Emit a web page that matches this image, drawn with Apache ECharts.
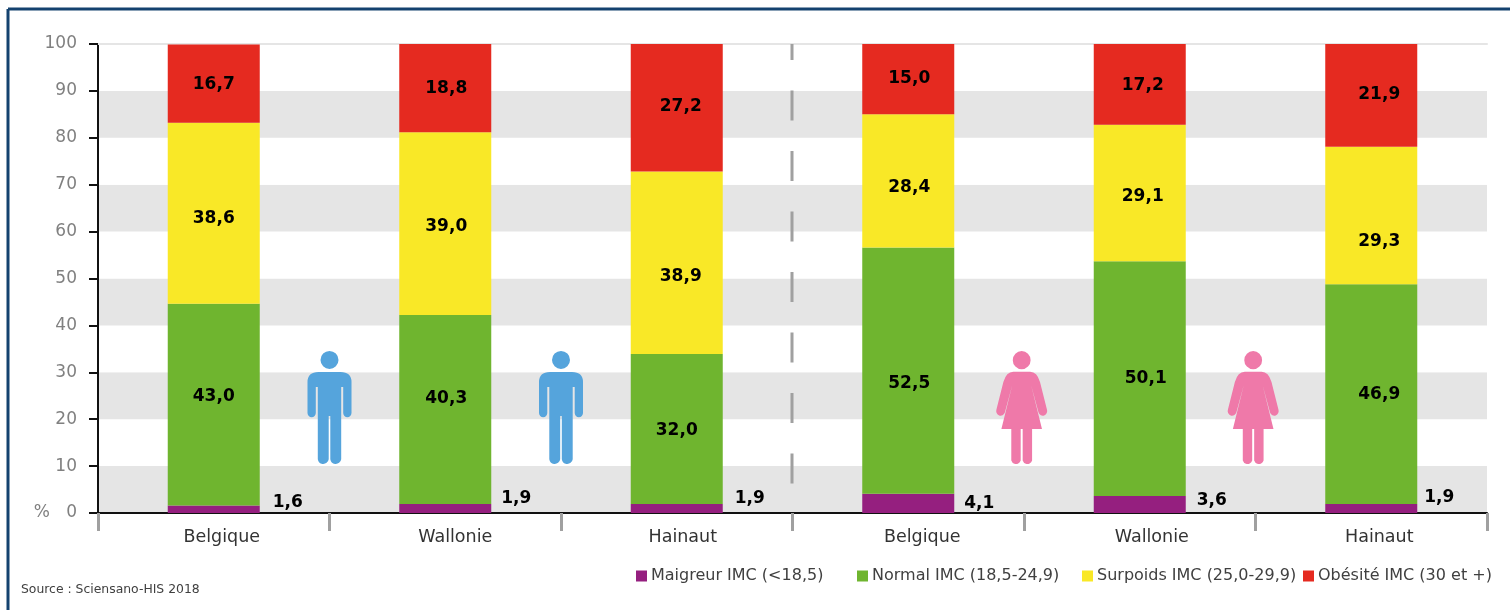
<!DOCTYPE html>
<html><head><meta charset="utf-8">
<style>html,body{margin:0;padding:0;background:#fff}#c{width:1510px;height:610px}</style>
<script src="https://cdn.jsdelivr.net/npm/echarts@6/dist/echarts.min.js"></script>
</head><body><div id="c"></div>
<script>
const categories = ['Belgique','Wallonie','Hainaut','Belgique','Wallonie','Hainaut'];
const yTicks = [0,10,20,30,40,50,60,70,80,90,100];
const maigreur = [1.6,1.9,1.9,4.1,3.6,1.9];
const normal   = [43.0,40.3,32.0,52.5,50.1,46.9];
const surpoids = [38.6,39.0,38.9,28.4,29.1,29.3];
const obesite  = [16.7,18.8,27.2,15.0,17.2,21.9];
const menPoints = [[1,22.5],[2,22.5]];
const womenPoints = [[3.99,22.5],[4.99,22.5]];
const source = 'Source : Sciensano-HIS 2018';
const seriesNames = ['Maigreur IMC (<18,5)','Normal IMC (18,5-24,9)','Surpoids IMC (25,0-29,9)','Obésité IMC (30 et +)'];
const seriesColors = ['#951f7f','#6fb52f','#f9e827','#e52a20'];

// label nudges [dx, dy] per bar (styling only)
const nudgeM = [[0,-7],[0,-10],[0,-10],[0,0],[0,-4],[0,-11]];
const nudgeN = [[0,-8],[1,-11],[0,2],[1,13],[6,0],[8,0]];
const nudgeS = [[0,5],[1,3],[4,14],[1,7],[3,4],[8,26]];
const nudgeO = [[0,1],[1,0],[4,-1],[1,-1],[3,1],[8,-1]];
const labelShift = [8,10,6,14,12,8];
const gapM = [13,10,12,10,11,7];
const labelFont = 'DejaVu Sans';

const fmt = v => v.toFixed(1).replace('.',',');
function items(vals, nudges){
  return vals.map((v,i)=>({value:v,label:{offset:nudges[i]}}));
}
const barBase = {type:'bar',stack:'imc',barWidth:92,xAxisIndex:0,silent:true};
const inLabel = {show:true,position:'inside',color:'#000',fontFamily:labelFont,fontWeight:'bold',fontSize:17,formatter:p=>fmt(p.value)};

const rich = {};
labelShift.forEach((s,i)=>{rich['a'+i]={padding:[0,0,0,2*s],fontFamily:labelFont,fontSize:17.5,color:'#333'};});

const manPath = 'path://M13,9a9,9 0 1 0 18,0a9,9 0 1 0 -18,0Z M11,21H33Q44,21 44,31V62A4,4 0 0 1 35.7,62V36H33.7V108A5.5,5.5 0 0 1 22.8,108V65H21.2V108A5.5,5.5 0 0 1 10.3,108V36H8.3V62A4,4 0 0 1 0,62V31Q0,21 11,21Z';
const womanPath = 'path://M16.5,9.5a9,9 0 1 0 18,0a9,9 0 1 0 -18,0Z M17,21H34Q41,21 44,31L51,58A4.5,4.5 0 0 1 42.5,61L35,34L46,77H36V108A5,5 0 0 1 26.5,108V77H24.5V108A5,5 0 0 1 15,108V77H5L16,34L8.5,61A4.5,4.5 0 0 1 0,58L7,31Q10,21 17,21Z';

const chart = echarts.init(document.getElementById('c'),null,{renderer:'canvas'});
chart.setOption({
  animation:false,
  backgroundColor:'#fff',
  grid:{left:98,right:23,top:44,bottom:97,containLabel:false},
  xAxis:[{
    type:'category',data:categories,
    axisLine:{show:true,lineStyle:{color:'#111',width:2}},
    axisTick:{show:true,length:18,lineStyle:{color:'#a0a0a0',width:3}},
    axisLabel:{margin:15,interval:0,formatter:(v,i)=>'{a'+i+'|'+v+'}',rich}
  },{
    type:'category',position:'top',data:categories,
    axisLine:{show:true,onZero:false,lineStyle:{color:'#e5e5e5',width:2}},
    axisTick:{show:false},axisLabel:{show:false}
  },{
    type:'value',min:0,max:6,show:false
  }],
  yAxis:{
    type:'value',min:0,max:100,interval:10,
    axisLine:{show:true,lineStyle:{color:'#111',width:2}},
    axisTick:{show:true,length:9,lineStyle:{color:'#111',width:2}},
    axisLabel:{margin:21,color:'#808080',fontFamily:labelFont,fontSize:17,
      formatter:v=>v===0?'%   0':String(yTicks[v/10])},
    splitLine:{show:false},
    splitArea:{show:true,areaStyle:{color:['#e5e5e5','#ffffff']}}
  },
  legend:seriesNames.map((n,i)=>({
    data:[n],left:[636,857,1082,1303][i],top:568,itemWidth:11,itemHeight:11,icon:'rect',
    padding:0,selectedMode:false,
    textStyle:{color:'#404040',fontFamily:labelFont,fontSize:16,padding:[0,0,0,-1]}
  })),
  series:[
    {...barBase,name:seriesNames[0],data:maigreur.map((v,i)=>({value:v,label:{offset:nudgeM[i],distance:gapM[i]}})),itemStyle:{color:seriesColors[0]},
      label:{...inLabel,position:'right'}},
    {...barBase,name:seriesNames[1],data:items(normal,nudgeN),itemStyle:{color:seriesColors[1]},label:inLabel},
    {...barBase,name:seriesNames[2],data:items(surpoids,nudgeS),itemStyle:{color:seriesColors[2]},label:inLabel},
    {...barBase,name:seriesNames[3],data:items(obesite,nudgeO),itemStyle:{color:seriesColors[3]},label:inLabel},
    {type:'scatter',xAxisIndex:2,silent:true,data:menPoints,symbol:manPath,symbolSize:[44,113],itemStyle:{color:'#55a4dc',opacity:1}},
    {type:'scatter',xAxisIndex:2,silent:true,data:womenPoints,symbol:womanPath,symbolSize:[51,113],itemStyle:{color:'#ef79a9',opacity:1}}
  ],
  graphic:[
    {type:'line',silent:true,shape:{x1:8,y1:9,x2:1510,y2:9},style:{stroke:'#14426f',lineWidth:3}},
    {type:'line',silent:true,shape:{x1:8,y1:9,x2:8,y2:610},style:{stroke:'#14426f',lineWidth:3}},
    {type:'line',silent:true,z:5,shape:{x1:792,y1:44,x2:792,y2:484},style:{stroke:'#a0a0a0',lineWidth:3,lineDash:[30,30.5],lineDashOffset:14}},
    {type:'text',silent:true,x:21,y:584,style:{text:source,fill:'#404040',font:'12.4px "DejaVu Sans"'}}
  ]
});
</script></body></html>
